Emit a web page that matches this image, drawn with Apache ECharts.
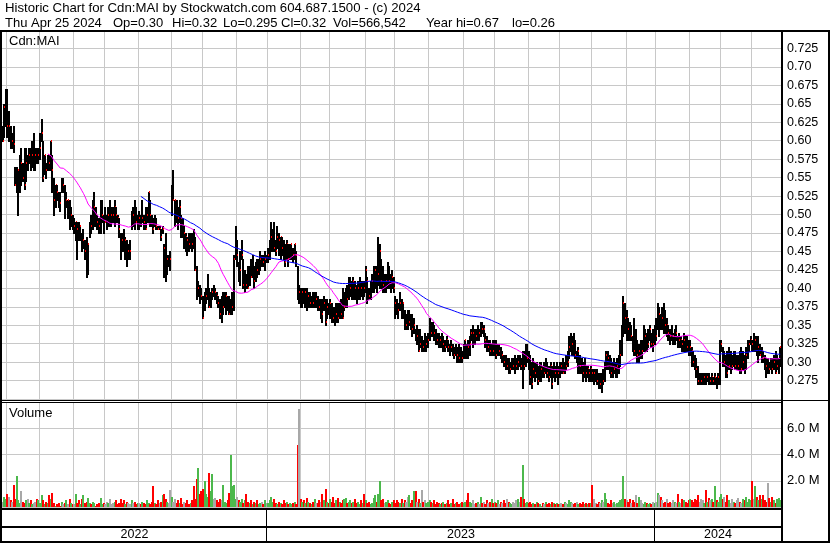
<!DOCTYPE html>
<html><head><meta charset="utf-8">
<script src="https://cdn.jsdelivr.net/npm/echarts/dist/echarts.min.js"></script>
<style>html,body{margin:0;padding:0;background:#fff}#c{width:830px;height:543px}</style>
</head><body><div id="c"></div>
<script>
// ---- data (daily bars, Apr 27 2022 .. Apr 25 2024) ----
const high = [
.62,.65,.67,
.67,.64,.62,.61,.62,.565,.565,.56,.58,.59,.57,.59,.59,.58,.59,.59,.60,.61,.59,.59,.59,
.61,.63,.60,.58,.57,.58,.58,.60,.58,.55,.54,.54,.53,.53,.55,.55,.54,.53,.52,.52,.51,.50,
.495,.49,.49,.49,.485,.475,.48,.465,.47,.46,.49,.50,.52,.53,.51,.50,.495,.52,.52,.50,
.51,.50,.51,.52,.51,.51,.52,.51,.50,.495,.475,.475,.48,.47,.465,.46,.465,.505,.51,.52,.51,.50,
.505,.50,.52,.50,.51,.51,.53,.52,.50,.495,.50,.495,.485,.485,.48,.485,.46,.475,.445,.445,.45,
.54,.56,.52,.52,.51,.52,.50,.495,.485,.475,.47,.475,.475,.475,.48,.47,.43,.41,.405,.40,
.39,.395,.40,.42,.40,.395,.40,.405,.40,.395,.39,.385,.39,.395,.395,.395,.39,.39,.385,.395,.445,.485,
.465,.435,.45,.465,.44,.425,.42,.43,.43,.44,.445,.43,.435,.44,.44,.45,.445,.445,.45,.445,
.455,.465,.49,.48,.49,.465,.485,.475,.47,.47,.465,.46,.465,.46,.46,.46,.455,.46,.45,.43,.405,
.40,.40,.40,.40,.40,.395,.395,.39,.395,.395,.395,.39,.385,.385,.385,.39,.385,.385,.38,
.385,.38,.375,.375,.38,.38,.38,.385,.40,.395,.40,.405,.415,.415,.41,.415,.41,.405,.41,.415,.41,.41,.41,
.43,.415,.40,.41,.42,.43,.43,.43,.47,.46,.44,.43,.42,.42,.435,.43,.42,.425,.415,
.39,.385,.38,.395,.385,.38,.37,.365,.37,.37,.365,.365,.36,.345,.35,.345,.345,.335,.33,.34,.335,.34,
.36,.355,.355,.35,.345,.34,.34,.335,.34,.335,.33,.335,.33,.325,.33,.325,.32,.325,.32,.325,.32,.315,
.325,.33,.325,.33,.335,.345,.35,.345,.345,.35,.345,.355,.355,.35,.34,.335,.33,.33,.325,.33,
.33,.33,.325,.325,.32,.315,.31,.31,.305,.305,.30,.305,.305,.31,.305,.31,.31,.305,.315,.315,.325,.325,
.315,.31,.30,.305,.30,.30,.295,.30,.30,.295,.30,.305,.30,.295,.30,.295,.30,.295,.30,.295,
.30,.30,.305,.30,.31,.315,.335,.34,.335,.34,.33,.315,.32,.31,.305,.30,.305,.295,.295,.29,.295,
.29,.29,.29,.29,.285,.285,.285,.29,.30,.315,.315,.31,.305,.30,.305,.30,.305,.31,.33,.35,.39,.38,
.37,.36,.355,.35,.335,.36,.345,.33,.325,.33,.33,.35,.345,.34,.345,.35,.34,.345,.35,
.36,.38,.375,.365,.375,.38,.37,.36,.35,.345,.35,.34,.345,.35,.335,.34,.335,.33,.34,.335,.335,.33,
.33,.32,.315,.31,.305,.295,.285,.285,.285,.285,.285,.285,.285,.28,.285,.28,.285,.28,.285,.33,
.33,.32,.315,.31,.315,.32,.315,.31,.315,.315,.31,.31,.315,.32,.315,.31,.32,.33,.33,.335,
.33,.34,.335,.335,.335,.325,.32,.315,.31,.305,.305,.30,.305,.305,.31,.315,.31,.305,.32
];
const low = [
.60,.605,.62,
.605,.60,.59,.59,.585,.54,.53,.50,.53,.54,.545,.535,.545,.56,.57,.56,.565,.56,.56,.57,.57,
.575,.60,.545,.555,.55,.56,.56,.56,.53,.50,.51,.52,.51,.505,.53,.53,.495,.51,.495,.48,.485,.48,
.475,.465,.44,.465,.465,.45,.455,.44,.415,.42,.47,.475,.48,.485,.485,.48,.475,.475,.49,.475,
.49,.48,.485,.485,.485,.49,.485,.49,.49,.47,.44,.45,.45,.44,.43,.44,.44,.48,.485,.48,.49,.48,
.48,.485,.49,.48,.48,.49,.49,.485,.485,.475,.485,.48,.48,.48,.465,.475,.415,.41,.42,.43,.425,
.50,.52,.485,.49,.48,.49,.47,.47,.455,.45,.445,.45,.455,.45,.455,.425,.385,.39,.38,.385,
.36,.37,.38,.385,.375,.375,.385,.39,.385,.38,.375,.36,.355,.365,.375,.365,.37,.365,.365,.365,.37,.44,
.43,.41,.405,.44,.40,.395,.40,.40,.405,.415,.415,.40,.41,.415,.42,.425,.43,.43,.425,.435,
.435,.44,.45,.45,.45,.445,.455,.445,.44,.445,.44,.43,.44,.43,.44,.44,.435,.44,.43,.385,.38,
.375,.375,.38,.375,.37,.375,.375,.375,.375,.375,.375,.37,.37,.36,.355,.37,.35,.36,.365,
.36,.355,.355,.35,.355,.355,.36,.36,.36,.37,.375,.375,.385,.39,.385,.385,.385,.38,.385,.385,.39,.385,.39,
.395,.38,.385,.385,.395,.395,.40,.395,.405,.40,.40,.395,.395,.395,.40,.40,.395,.40,.395,
.36,.365,.36,.37,.36,.36,.345,.345,.345,.35,.345,.335,.34,.33,.325,.315,.32,.315,.315,.315,.315,.32,
.33,.335,.335,.33,.325,.325,.32,.32,.32,.315,.315,.32,.315,.31,.315,.31,.305,.31,.30,.30,.30,.30,
.305,.305,.305,.305,.31,.33,.32,.325,.33,.33,.33,.335,.34,.335,.32,.315,.315,.31,.31,.31,
.31,.305,.31,.31,.305,.30,.295,.29,.29,.285,.285,.29,.29,.285,.29,.29,.295,.29,.265,.29,.295,.30,
.29,.27,.265,.28,.275,.28,.27,.275,.275,.28,.28,.285,.28,.275,.28,.265,.28,.275,.28,.27,
.28,.285,.285,.285,.29,.295,.305,.315,.31,.31,.305,.30,.285,.285,.285,.275,.28,.275,.28,.275,.275,
.275,.27,.275,.27,.265,.265,.26,.27,.275,.29,.29,.285,.28,.28,.285,.28,.28,.285,.295,.31,.335,.34,
.33,.33,.33,.33,.315,.31,.31,.30,.30,.305,.305,.315,.315,.315,.32,.33,.32,.315,.325,
.33,.345,.335,.345,.345,.34,.34,.335,.33,.325,.33,.325,.325,.33,.32,.32,.32,.315,.315,.315,.315,.31,
.31,.295,.295,.29,.28,.27,.27,.27,.27,.27,.27,.275,.27,.27,.27,.27,.27,.265,.27,.27,
.315,.295,.295,.28,.28,.29,.285,.29,.295,.29,.29,.29,.285,.285,.29,.285,.29,.305,.315,.325,
.315,.315,.315,.31,.30,.31,.30,.30,.29,.28,.285,.285,.29,.285,.29,.285,.29,.285,.295
];
const close = [
.60,.645,.65,
.62,.62,.60,.60,.595,.54,.55,.56,.57,.57,.55,.54,.57,.57,.58,.57,.58,.58,.58,.575,.58,
.59,.61,.55,.58,.56,.58,.57,.60,.56,.52,.54,.53,.52,.515,.54,.54,.51,.52,.52,.495,.50,.485,
.485,.49,.48,.475,.485,.46,.465,.45,.44,.46,.49,.485,.50,.51,.50,.49,.485,.495,.50,.49,
.49,.49,.50,.50,.50,.50,.51,.50,.495,.48,.47,.465,.46,.465,.45,.45,.45,.50,.50,.495,.49,.495,
.495,.49,.495,.49,.48,.50,.53,.50,.49,.48,.49,.485,.48,.48,.47,.48,.455,.43,.44,.44,.44,
.52,.52,.52,.505,.495,.51,.495,.475,.475,.47,.465,.46,.465,.46,.455,.425,.39,.40,.395,.39,
.36,.38,.39,.395,.375,.385,.395,.395,.395,.39,.38,.365,.365,.375,.385,.39,.38,.365,.37,.375,.44,.445,
.445,.415,.425,.445,.405,.41,.405,.40,.42,.415,.425,.41,.43,.425,.43,.44,.44,.435,.44,.44,
.445,.455,.47,.475,.455,.45,.47,.465,.47,.455,.45,.435,.46,.44,.45,.46,.445,.46,.445,.395,.395,
.39,.395,.39,.395,.375,.39,.38,.385,.38,.385,.385,.38,.375,.375,.365,.38,.355,.375,.37,
.38,.365,.36,.355,.365,.36,.37,.365,.36,.375,.39,.385,.395,.40,.39,.41,.40,.39,.40,.405,.40,.405,.40,
.425,.41,.39,.40,.41,.42,.425,.415,.42,.45,.41,.405,.405,.41,.425,.41,.40,.415,.40,
.38,.375,.37,.38,.365,.38,.35,.35,.35,.355,.35,.345,.35,.335,.335,.315,.325,.325,.32,.32,.325,.33,
.345,.34,.345,.34,.335,.33,.325,.33,.32,.325,.32,.33,.32,.315,.32,.315,.31,.315,.31,.305,.31,.305,
.31,.33,.325,.32,.325,.34,.34,.34,.335,.34,.34,.35,.345,.345,.33,.32,.32,.315,.32,.315,
.32,.31,.315,.315,.31,.31,.30,.295,.295,.285,.29,.295,.295,.295,.295,.30,.30,.295,.30,.295,.30,.305,
.295,.28,.27,.29,.285,.29,.275,.285,.29,.285,.285,.295,.285,.28,.295,.27,.29,.285,.29,.285,
.295,.295,.285,.295,.295,.30,.32,.325,.325,.32,.31,.31,.315,.295,.29,.285,.29,.285,.29,.285,.29,
.285,.285,.285,.275,.27,.27,.275,.275,.295,.31,.305,.29,.285,.285,.29,.29,.295,.30,.31,.34,.38,.36,
.36,.345,.335,.335,.33,.315,.315,.31,.315,.315,.315,.32,.335,.32,.325,.345,.325,.325,.335,
.335,.365,.365,.36,.36,.355,.35,.35,.34,.335,.335,.335,.34,.34,.32,.33,.33,.325,.33,.325,.32,.315,
.32,.315,.30,.295,.29,.275,.275,.275,.275,.28,.275,.28,.275,.275,.28,.275,.28,.275,.28,.32,
.325,.30,.30,.29,.285,.295,.295,.295,.305,.295,.295,.295,.29,.29,.30,.295,.31,.315,.325,.33,
.325,.325,.33,.315,.32,.31,.315,.305,.30,.295,.295,.29,.295,.29,.30,.285,.295,.30,.32
];
// volume in millions of shares
const volume = [
0.4,0.8,0.6,
1.0,0.8,0.5,0.4,1.7,0.6,2.4,0.5,0.3,1.2,0.4,0.3,0.5,0.6,0.3,0.5,0.2,0.3,0.4,0.6,0.5,
0.3,0.9,0.5,0.2,0.4,0.3,0.9,0.6,1.1,0.3,0.1,0.2,0.3,0.1,0.4,0.2,0.3,0.5,0.2,0.6,0.3,0.2,
0.2,1.0,0.3,0.5,0.2,0.6,0.9,0.3,0.4,0.7,0.3,0.2,0.4,0.3,0.1,0.2,0.3,0.7,0.2,0.3,
0.2,0.4,0.3,0.6,0.2,0.3,0.4,0.5,0.2,0.3,0.6,0.3,0.5,0.2,0.4,0.3,0.2,0.5,0.3,0.4,0.2,0.3,
0.3,0.2,0.4,0.3,0.2,0.5,0.3,0.2,0.4,1.6,0.3,0.2,0.5,0.3,0.4,0.9,1.0,0.6,0.4,0.3,1.3,
0.8,0.4,0.6,0.3,0.5,0.3,0.7,0.2,0.4,0.3,0.5,0.2,0.3,0.5,1.6,0.6,2.1,3.0,1.0,1.2,
1.4,2.0,1.0,0.8,2.6,1.2,2.5,0.6,0.7,0.5,0.4,0.6,0.5,1.7,0.4,0.3,0.5,1.1,4.0,1.6,1.7,0.6,
0.8,0.5,0.4,0.6,0.3,0.5,1.0,0.4,0.3,0.5,0.2,0.4,0.3,0.5,0.2,0.3,0.4,0.2,0.5,0.3,
0.3,0.5,0.8,0.4,0.6,0.3,0.2,0.4,0.3,0.2,0.5,0.3,0.4,0.2,0.3,0.2,0.3,0.4,0.2,4.7,7.5,
0.6,0.4,0.5,0.3,0.7,0.4,0.3,0.2,0.4,0.6,0.3,0.3,0.5,0.4,1.0,0.5,1.4,0.4,0.3,
0.6,0.4,0.8,0.3,0.5,0.7,0.4,0.3,0.5,0.6,0.7,0.3,0.4,0.5,0.3,0.4,0.6,0.3,0.4,0.2,0.5,0.3,1.0,
0.5,0.3,0.4,0.2,0.3,0.7,0.9,0.4,1.0,2.0,0.5,0.6,0.3,0.4,0.5,0.3,0.2,0.4,0.5,
0.3,0.5,0.4,0.3,0.6,0.3,0.5,0.4,0.8,0.9,0.3,0.5,1.2,1.2,0.4,0.6,0.3,1.3,0.4,0.5,0.3,0.4,
0.5,0.4,0.3,0.5,0.2,0.4,0.3,0.2,0.3,0.4,0.2,0.3,0.5,0.2,0.3,0.6,0.2,0.3,0.4,0.2,0.3,0.4,
0.3,0.4,0.5,1.1,0.4,0.3,0.5,0.2,0.3,0.4,0.2,0.8,0.3,0.4,0.2,0.5,0.3,0.4,0.6,0.3,
0.4,0.3,0.5,0.2,0.4,0.3,0.5,0.3,0.6,0.4,0.3,0.2,0.4,0.3,0.5,0.6,0.4,0.8,3.2,0.6,0.3,0.4,
0.3,0.4,0.2,0.3,0.2,0.4,0.3,0.2,0.1,0.3,0.2,0.4,0.2,0.3,0.2,0.4,0.3,0.2,0.3,0.2,
0.2,0.3,0.2,0.4,0.3,0.2,0.5,0.4,0.3,0.2,0.3,0.4,0.2,0.3,0.2,0.4,0.2,0.3,0.2,0.3,0.3,
1.7,0.6,0.3,0.2,0.4,0.3,0.5,0.4,1.1,0.6,0.3,0.2,0.5,0.3,0.4,0.2,0.3,0.4,0.5,0.6,2.4,0.6,
0.5,0.4,0.6,0.3,0.5,0.4,0.9,0.3,0.8,0.5,0.3,0.2,0.4,0.3,0.2,0.3,0.2,0.4,0.3,
0.4,1.1,0.9,0.8,0.5,0.3,0.4,0.6,0.3,0.4,0.3,0.5,0.4,0.3,1.0,0.4,0.3,0.6,0.5,0.4,0.3,0.5,
0.6,0.5,0.4,0.6,0.5,0.9,0.4,0.6,0.5,0.3,1.3,0.4,0.7,0.5,0.6,0.4,1.6,0.5,0.4,0.8,
1.0,0.6,0.8,0.4,0.9,0.5,0.3,0.6,0.4,0.3,0.5,0.7,0.4,0.3,0.6,0.5,0.8,0.4,0.6,0.5,
2.0,0.6,1.6,0.8,0.5,0.9,0.6,0.9,0.5,0.4,1.8,0.7,0.4,0.8,0.5,0.3,0.6,0.7,0.567
];
const holidays = ['2022-05-23','2022-07-01','2022-08-01','2022-09-05','2022-10-10','2022-12-26','2022-12-27',
'2023-01-02','2023-02-20','2023-04-07','2023-05-22','2023-07-03','2023-08-07','2023-09-04','2023-10-09','2023-12-25','2023-12-26',
'2024-01-01','2024-02-19','2024-03-29'];
const firstDay = '2022-04-27', lastDay = '2024-04-25';
const maFast = 30, maSlow = 90;
const priceTickLabels = ['0.275','0.30','0.325','0.35','0.375','0.40','0.425','0.45','0.475','0.50','0.525','0.55','0.575','0.60','0.625','0.65','0.675','0.70','0.725'];
const volTickLabels = ['2.0 M','4.0 M','6.0 M'];
const titleLine1 = 'Historic Chart for Cdn:MAI by Stockwatch.com 604.687.1500 - (c) 2024';
const titleLine2 = ['Thu Apr 25 2024','Op=0.30','Hi=0.32','Lo=0.295','Cl=0.32','Vol=566,542','Year hi=0.67','lo=0.26'];

// ---- trading-day categories ----
const dates = [];
for (let d = new Date(firstDay + 'T00:00:00Z'); d <= new Date(lastDay + 'T00:00:00Z'); d.setUTCDate(d.getUTCDate() + 1)) {
  const wd = d.getUTCDay();
  if (wd === 0 || wd === 6) continue;
  const s = d.toISOString().slice(0, 10);
  if (holidays.indexOf(s) >= 0) continue;
  dates.push(s);
}
const monthStart = new Set();
for (let i = 1; i < dates.length; i++) if (dates[i].slice(0, 7) !== dates[i - 1].slice(0, 7)) monthStart.add(i);

function sma(arr, n) {
  const out = [];
  let s = 0;
  for (let i = 0; i < arr.length; i++) {
    s += arr[i];
    if (i >= n) s -= arr[i - n];
    out.push(i >= n - 1 ? +(s / n).toFixed(5) : null);
  }
  return out;
}

const FONT = '"Liberation Sans", Arial, sans-serif';
const GRID = '#c8c8c8';
const chart = echarts.init(document.getElementById('c'), null, {renderer: 'canvas', width: 830, height: 543});

const barData = dates.map((d, i) => [i, high[i], low[i], close[i]]);
const volData = dates.map((d, i) => [i, volume[i], i === 0 ? 0 : Math.sign(Math.round((close[i] - close[i - 1]) * 1000))]);

function fmtPrice(v) {
  const r = Math.round(v * 1000);
  const s = (r % 10 === 0) ? (r / 1000).toFixed(2) : (r / 1000).toFixed(3);
  return priceTickLabels.indexOf(s) >= 0 ? s : '';
}
function fmtVol(v) {
  const s = v.toFixed(1) + ' M';
  return volTickLabels.indexOf(s) >= 0 ? s : '';
}

const xCommon = {
  type: 'category', data: dates, boundaryGap: true,
  axisLine: {show: false}, axisTick: {show: false}, axisLabel: {show: false},
  splitLine: {show: true, interval: (i) => monthStart.has(i), lineStyle: {color: GRID, width: 1}}
};

function R(x, y, w, h) { return {type: 'rect', silent: true, z: 100, shape: {x, y, width: w, height: h}, style: {fill: '#000'}}; }
function T(text, x, y, size, align) {
  return {type: 'text', silent: true, z: 101, x, y,
    style: {text, font: size + 'px ' + FONT, fill: '#000', align: align || 'left', verticalAlign: 'middle',
            textAlign: align || 'left', textVerticalAlign: 'middle'}};
}
const line2X = [5, 113, 172, 223, 281, 333, 426, 512];
const graphics = [
  T(titleLine1, 5, 8.5, 13.2),
  ...titleLine2.map((t, k) => T(t, line2X[k], 23.5, 13)),
  T('Cdn:MAI', 9, 41.5, 13),
  T('Volume', 9, 413.5, 13),
  R(0, 30, 830, 2),      // under title
  R(0, 30, 2, 513),      // left border
  R(781, 30, 2, 513),    // right plot border
  R(828, 30, 2, 513),    // outer right border
  R(0, 400, 830, 1),     // panel separator
  R(0, 402, 781, 1),
  R(0, 508, 781, 2),     // volume bottom
  R(0, 526, 781, 2),     // row line
  R(0, 541, 830, 2)      // bottom border
];

const option = {
  animation: false,
  backgroundColor: '#ffffff',
  grid: [
    {left: 2, top: 30, width: 779, height: 369},
    {left: 2, top: 402, width: 779, height: 105}
  ],
  xAxis: [Object.assign({gridIndex: 0}, xCommon), Object.assign({gridIndex: 1}, xCommon)],
  yAxis: [
    {type: 'value', gridIndex: 0, position: 'right', min: 0.25, max: 0.75, interval: 0.025,
     axisLine: {show: false}, axisTick: {show: false},
     splitLine: {show: true, lineStyle: {color: GRID, width: 1}},
     axisLabel: {margin: 6, color: '#000', fontSize: 12.5, fontFamily: FONT, formatter: fmtPrice}},
    {type: 'value', gridIndex: 1, position: 'right', min: 0, max: 8, interval: 2,
     axisLine: {show: false}, axisTick: {show: false},
     splitLine: {show: true, lineStyle: {color: GRID, width: 1}},
     axisLabel: {margin: 6, color: '#000', fontSize: 13, fontFamily: FONT, formatter: fmtVol}}
  ],
  series: [
    {type: 'custom', name: 'bars', xAxisIndex: 0, yAxisIndex: 0, z: 2, silent: true,
     data: barData, encode: {x: 0, y: [1, 2]},
     renderItem: function (params, api) {
       const i = api.value(0);
       const pH = api.coord([i, api.value(1)]);
       const pL = api.coord([i, api.value(2)]);
       const pC = api.coord([i, api.value(3)]);
       const x = Math.round(pH[0]) - 1;
       const y0 = Math.round(pH[1]), y1 = Math.round(pL[1]);
       return {type: 'group', children: [
         {type: 'rect', shape: {x: x, y: y0, width: 2, height: Math.max(2, y1 - y0 + 1)}, style: {fill: '#000'}},
         {type: 'rect', shape: {x: x + 1, y: Math.round(pC[1]) - 1, width: 1, height: 2}, style: {fill: '#ff0000'}}
       ]};
     }},
    {type: 'line', name: 'MA' + maFast, xAxisIndex: 0, yAxisIndex: 0, z: 4, silent: true,
     data: sma(close, maFast), showSymbol: false, symbol: 'none', connectNulls: false,
     lineStyle: {color: '#ff00ff', width: 1}},
    {type: 'line', name: 'MA' + maSlow, xAxisIndex: 0, yAxisIndex: 0, z: 4, silent: true,
     data: sma(close, maSlow), showSymbol: false, symbol: 'none', connectNulls: false,
     lineStyle: {color: '#0000ff', width: 1}},
    {type: 'custom', name: 'volume', xAxisIndex: 1, yAxisIndex: 1, z: 2, silent: true,
     data: volData, encode: {x: 0, y: 1},
     renderItem: function (params, api) {
       const i = api.value(0);
       const top = api.coord([i, api.value(1)]);
       const base = api.coord([i, 0]);
       const dir = api.value(2);
       const col = dir > 0 ? '#4cb84c' : (dir < 0 ? '#ff0000' : '#a8a8a8');
       const x = Math.round(top[0]) - 1;
       const yt = Math.round(top[1]), yb = Math.round(base[1]);
       return {type: 'rect', shape: {x: x, y: yt, width: 2, height: Math.max(1, yb - yt)}, style: {fill: col}};
     }}
  ],
  graphic: graphics
};
chart.setOption(option);

// year separators and labels in the bottom row, placed from the axis scale
const band = 779 / dates.length;
const leftEdge = (i) => chart.convertToPixel({xAxisIndex: 1}, dates[i]) - band / 2;
const yearStarts = [];
for (let i = 1; i < dates.length; i++) if (dates[i].slice(0, 4) !== dates[i - 1].slice(0, 4)) yearStarts.push(i);
const bounds = [2, ...yearStarts.map(i => Math.round(leftEdge(i))), 781];
const extra = [];
yearStarts.forEach(i => extra.push(R(Math.round(leftEdge(i)) - 1, 510, 1, 31)));
for (let k = 0; k < bounds.length - 1; k++) {
  const yr = k === 0 ? dates[0].slice(0, 4) : dates[yearStarts[k - 1]].slice(0, 4);
  extra.push(T(yr, (bounds[k] + bounds[k + 1]) / 2, 534.5, 12.5, 'center'));
}
chart.setOption({graphic: graphics.concat(extra)});
</script>
</body></html>
